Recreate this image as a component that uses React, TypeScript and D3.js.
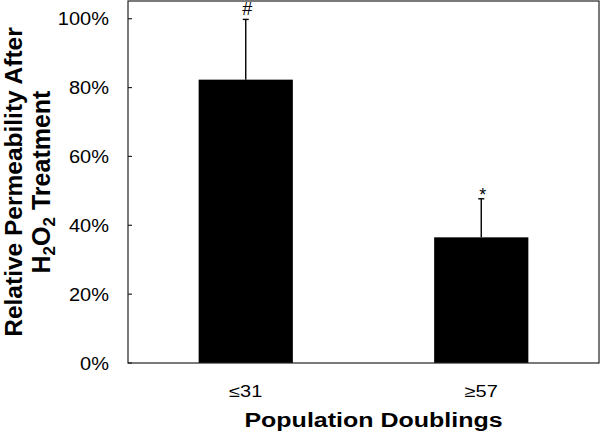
import React from "react";
import * as d3 from "d3";

const categories = ["≤31", "≥57"];
const values = [82.3, 36.5];
const errors = [17.5, 11.2];
const markers = ["#", "*"];
const yTicks = [0, 20, 40, 60, 80, 100];

const W = 601;
const H = 435;
const M = { left: 128, right: 599, top: 1.5, bottom: 363 };

export default function App() {
  const x = d3
    .scaleBand<string>()
    .domain(categories)
    .range([M.left, M.right])
    .paddingInner(0.6)
    .paddingOuter(0.3);
  const y = d3.scaleLinear().domain([0, 105]).range([M.bottom, M.top]);
  const font = "'Liberation Sans', Arial, sans-serif";
  const axisColor = "#222";

  return (
    <svg
      width={W}
      height={H}
      style={{ position: "absolute", left: 0, top: 0, background: "#fff" }}
      fontFamily={font}
    >
      <rect x={0} y={0} width={W} height={H} fill="#fff" />
      {/* bars */}
      {categories.map((c, i) => (
        <rect
          key={c}
          x={x(c)!}
          y={y(values[i])}
          width={x.bandwidth()}
          height={y(0) - y(values[i])}
          fill="#000"
        />
      ))}
      {/* error bars */}
      {categories.map((c, i) => {
        const cx = x(c)! + x.bandwidth() / 2;
        const top = y(values[i] + errors[i]);
        return (
          <g key={"e" + c} stroke="#000" strokeWidth={1.4}>
            <line x1={cx} x2={cx} y1={y(values[i])} y2={top} />
            <line x1={cx - 3} x2={cx + 3} y1={top} y2={top} />
          </g>
        );
      })}
      {/* significance markers */}
      {categories.map((c, i) => {
        const cx = x(c)! + x.bandwidth() / 2 + 1.5;
        const top = y(values[i] + errors[i]);
        return (
          <text
            key={"m" + c}
            x={cx}
            y={markers[i] === "*" ? top + 2.5 : top - 4}
            textAnchor="middle"
            fontSize={18}
            fill="#000"
          >
            {markers[i]}
          </text>
        );
      })}
      {/* frame */}
      <rect
        x={M.left}
        y={M.top - 0.5}
        width={M.right - M.left}
        height={M.bottom - M.top + 0.5}
        fill="none"
        stroke={axisColor}
        strokeWidth={1.2}
      />
      {/* y ticks */}
      {yTicks.map((t) => (
        <g key={"t" + t}>
          <line
            x1={M.left}
            x2={M.left + 4}
            y1={y(t)}
            y2={y(t)}
            stroke={axisColor}
            strokeWidth={1.2}
          />
          <text
            transform={`translate(${M.left - 19},${y(t) + 6.5}) scale(1,0.92)`}
            textAnchor="end"
            fontSize={20}
            fill="#000"
          >
            {t + "%"}
          </text>
        </g>
      ))}
      {/* category labels */}
      {categories.map((c) => (
        <text
          key={"c" + c}
          transform={`translate(${x(c)! + x.bandwidth() / 2},396.5) scale(1,0.82)`}
          textAnchor="middle"
          fontSize={20}
          fill="#000"
        >
          {c}
        </text>
      ))}
      {/* x title */}
      <text
        transform={`translate(373.5,426.5) scale(1,0.8)`}
        textAnchor="middle"
        fontSize={25}
        fontWeight="bold"
        fill="#000"
      >
        Population Doublings
      </text>
      {/* y title */}
      <g transform={`translate(22,182) rotate(-90)`}>
        <text textAnchor="middle" fontSize={24.5} fontWeight="bold" fill="#000">
          Relative Permeability After
        </text>
      </g>
      <g transform={`translate(50,182) rotate(-90)`}>
        <text textAnchor="middle" fontSize={25} fontWeight="bold" fill="#000">
          H
          <tspan fontSize={17} dy={5}>
            2
          </tspan>
          <tspan dy={-5}>O</tspan>
          <tspan fontSize={17} dy={5}>
            2
          </tspan>
          <tspan dy={-5}> Treatment</tspan>
        </text>
      </g>
    </svg>
  );
}
